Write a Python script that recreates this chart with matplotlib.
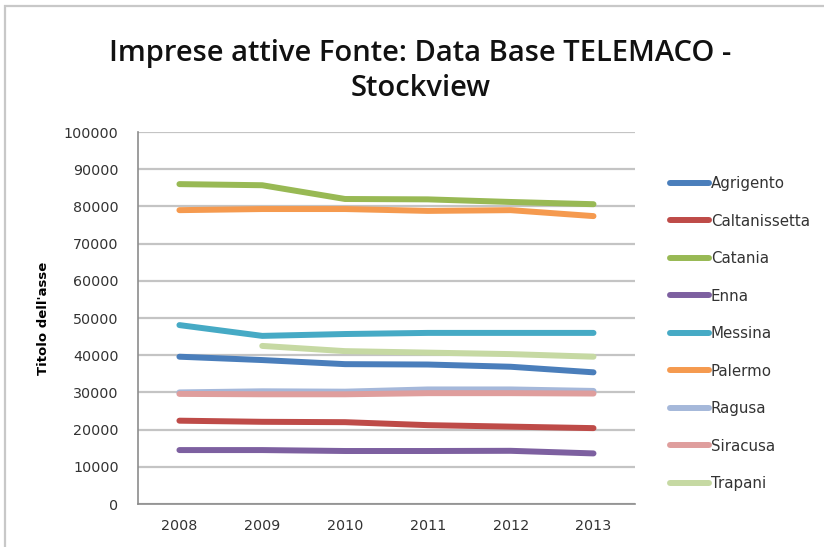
import matplotlib.pyplot as plt
from matplotlib.patches import Rectangle

anni = ['2008', '2009', '2010', '2011', '2012', '2013']

agrigento = [39600, 38700, 37600, 37500, 36900, 35400]
caltanissetta = [22400, 22100, 22000, 21200, 20800, 20400]
catania = [86000, 85700, 82000, 81900, 81200, 80600]
enna = [14500, 14500, 14250, 14250, 14300, 13600]
messina = [48100, 45200, 45700, 46000, 46000, 46000]
palermo = [79000, 79300, 79300, 78800, 79000, 77400]
ragusa = [30000, 30300, 30200, 30800, 30800, 30400]
siracusa = [29600, 29500, 29500, 29800, 29800, 29700]
trapani = [None, 42500, 41100, 40700, 40300, 39600]

province = ['Agrigento', 'Caltanissetta', 'Catania', 'Enna', 'Messina',
            'Palermo', 'Ragusa', 'Siracusa', 'Trapani']
serie = [agrigento, caltanissetta, catania, enna, messina,
         palermo, ragusa, siracusa, trapani]
colori = ['#4A7EBB', '#BE4B48', '#98B954', '#7D60A0', '#46AAC5',
          '#F59A4F', '#A5B8DA', '#DF9E9D', '#C6D9A3']

plt.rcParams['font.family'] = ['DejaVu Sans']

fig = plt.figure(figsize=(8.24, 5.47), dpi=100)
ax = fig.add_axes([0.1675, 0.0786, 0.603, 0.68])

# outer chart frame
fig.patches.append(Rectangle((5 / 824, -0.1), 1.2, 1 - 6 / 547 + 0.1,
                             transform=fig.transFigure, fill=False,
                             edgecolor='#c8c8c8', linewidth=1.6))

x = list(range(len(anni)))
for nome, valori, c in zip(province, serie, colori):
    xs = [i for i, v in zip(x, valori) if v is not None]
    ys = [v for v in valori if v is not None]
    ax.plot(xs, ys, color=c, linewidth=4.3, solid_capstyle='round',
            solid_joinstyle='round', label=nome)

ax.set_xlim(-0.5, 5.5)
ax.set_ylim(0, 100000)
ax.set_yticks(range(0, 100001, 10000))
ax.set_xticks(x)
ax.set_xticklabels(anni)
ax.grid(axis='y', color='#c4c4c4', linewidth=1.6)
ax.set_axisbelow(True)
for s in ['top', 'right']:
    ax.spines[s].set_visible(False)
for s in ['left', 'bottom']:
    ax.spines[s].set_color('#8c8c8c')
    ax.spines[s].set_linewidth(1.2)
ax.tick_params(length=0, labelsize=10.3, colors='#333333', pad=14)
ax.tick_params(axis='x', pad=11)

ax.set_ylabel("Titolo dell'asse", fontsize=9.5, fontweight='bold', labelpad=10)

fig.text(0.51, 0.870, 'Imprese attive Fonte: Data Base TELEMACO -\nStockview',
         ha='center', va='center', fontsize=21, fontweight='semibold',
         linespacing=1.3, color='#111111', family=['Open Sans', 'DejaVu Sans'])

fig.legend(loc='upper left', bbox_to_anchor=(0.797, 0.7025), frameon=False,
           fontsize=10.8, handlelength=2.6, handletextpad=0.1,
           labelspacing=1.5, labelcolor='#333333')

fig.savefig('out.png', dpi=100)
